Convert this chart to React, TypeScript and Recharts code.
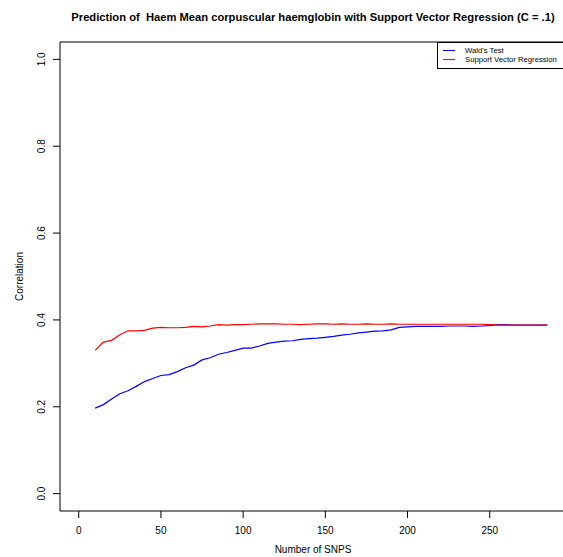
import React from 'react';
import { LineChart, Line, XAxis, YAxis, ReferenceArea, Legend, Label } from 'recharts';

const snps = [10, 15, 20, 25, 30, 35, 40, 45, 50, 55, 60, 65, 70, 75, 80, 85, 90, 95, 100, 105, 110, 115, 120, 125, 130, 135, 140, 145, 150, 155, 160, 165, 170, 175, 180, 185, 190, 195, 200, 205, 210, 215, 220, 225, 230, 235, 240, 245, 250, 255, 260, 265, 270, 275, 280, 285];

const waldTest = [0.197, 0.205, 0.218, 0.230, 0.237, 0.247, 0.258, 0.265, 0.272, 0.274, 0.281, 0.290, 0.296, 0.308, 0.313, 0.321, 0.325, 0.330, 0.335, 0.335, 0.340, 0.346, 0.349, 0.351, 0.352, 0.355, 0.357, 0.358, 0.360, 0.362, 0.365, 0.367, 0.370, 0.372, 0.374, 0.375, 0.377, 0.383, 0.384, 0.385, 0.385, 0.385, 0.385, 0.386, 0.386, 0.386, 0.385, 0.386, 0.387, 0.389, 0.389, 0.388, 0.388, 0.388, 0.388, 0.388];

const svr = [0.330, 0.349, 0.353, 0.366, 0.375, 0.375, 0.376, 0.381, 0.383, 0.382, 0.382, 0.383, 0.385, 0.384, 0.386, 0.389, 0.388, 0.389, 0.389, 0.390, 0.391, 0.391, 0.391, 0.390, 0.390, 0.389, 0.390, 0.391, 0.391, 0.390, 0.391, 0.390, 0.390, 0.391, 0.390, 0.390, 0.391, 0.390, 0.390, 0.390, 0.390, 0.390, 0.390, 0.390, 0.390, 0.390, 0.390, 0.390, 0.389, 0.388, 0.388, 0.388, 0.388, 0.388, 0.388, 0.388];

const xTicks = [0, 50, 100, 150, 200, 250];
const yTicks = [0, 0.2, 0.4, 0.6, 0.8, 1.0];

const data = snps.map((n, i) => ({ snps: n, wald: waldTest[i], svr: svr[i] }));

const FONT = '"Liberation Sans", Arial, Helvetica, sans-serif';

const XTick = ({ x, y, payload }: any) => (
  <text x={x} y={y + 14} textAnchor="middle" fontSize={10} fontFamily={FONT} fill="#000">
    {payload.value}
  </text>
);

const YTick = ({ x, y, payload }: any) => (
  <text
    x={x - 5.5}
    y={y}
    transform={`rotate(-90, ${x - 5.5}, ${y})`}
    textAnchor="middle"
    fontSize={10}
    fontFamily={FONT}
    fill="#000"
  >
    {Number(payload.value).toFixed(1)}
  </text>
);

const LegendBox = () => (
  <svg width={130} height={27} style={{ display: 'block' }}>
    <rect x={0.5} y={0.5} width={140} height={26} fill="#fff" stroke="#000" strokeWidth={1} />
    <line x1={6} x2={18} y1={8.5} y2={8.5} stroke="#0000ff" strokeWidth={1.1} />
    <line x1={6} x2={18} y1={17.5} y2={17.5} stroke="#ff0000" strokeWidth={1.1} />
    <text x={28} y={11.2} fontSize={7.7} fontFamily={FONT}>Wald's Test</text>
    <text x={28} y={20.2} fontSize={7.7} fontFamily={FONT}>Support Vector Regression</text>
  </svg>
);

const App: React.FC = () => {
  return (
    <div style={{ position: 'absolute', left: 0, top: 0, width: 563, height: 557, overflow: 'hidden', background: '#fff' }}>
      <div
        style={{
          position: 'absolute',
          left: 0,
          top: 11,
          width: 626,
          textAlign: 'center',
          fontFamily: FONT,
          fontWeight: 'bold',
          fontSize: 11.2,
          whiteSpace: 'pre',
        }}
      >
        {'Prediction of  Haem Mean corpuscular haemglobin with Support Vector Regression (C = .1)'}
      </div>
      <LineChart width={567} height={557} data={data} margin={{ top: 42, right: 1, bottom: 0, left: 0 }}>
        <XAxis
          dataKey="snps"
          type="number"
          domain={[-11.4, 296.4]}
          ticks={xTicks}
          allowDataOverflow
          axisLine={false}
          tickLine={{ stroke: '#000' }}
          tickSize={7}
          height={46}
          tick={<XTick />}
        >
          <Label
            content={({ viewBox }: any) => (
              <text
                x={viewBox.x + viewBox.width / 2}
                y={viewBox.y + 42}
                textAnchor="middle"
                fontSize={10}
                fontFamily={FONT}
              >
                Number of SNPS
              </text>
            )}
          />
        </XAxis>
        <YAxis
          type="number"
          domain={[-0.04, 1.04]}
          ticks={yTicks}
          allowDataOverflow
          axisLine={false}
          tickLine={{ stroke: '#000' }}
          tickSize={7}
          width={60}
          tick={<YTick />}
        >
          <Label
            content={({ viewBox }: any) => (
              <text
                x={23}
                y={viewBox.y + viewBox.height / 2}
                transform={`rotate(-90, 23, ${viewBox.y + viewBox.height / 2})`}
                textAnchor="middle"
                fontSize={10}
                fontFamily={FONT}
              >
                Correlation
              </text>
            )}
          />
        </YAxis>
        <ReferenceArea x1={-11.4} x2={296.4} y1={-0.04} y2={1.04} fill="none" stroke="#000" strokeWidth={1} ifOverflow="visible" />
        <Line type="linear" dataKey="wald" stroke="#0000ff" strokeWidth={1.2} dot={false} isAnimationActive={false} name="Wald's Test" />
        <Line type="linear" dataKey="svr" stroke="#ff0000" strokeWidth={1.2} dot={false} isAnimationActive={false} name="Support Vector Regression" />
        <Legend
          layout="horizontal"
          verticalAlign="middle"
          align="center"
          wrapperStyle={{ position: 'absolute', left: 437, top: 42, width: 130, height: 27 }}
          content={() => <LegendBox />}
        />
      </LineChart>
    </div>
  );
};

export default App;
